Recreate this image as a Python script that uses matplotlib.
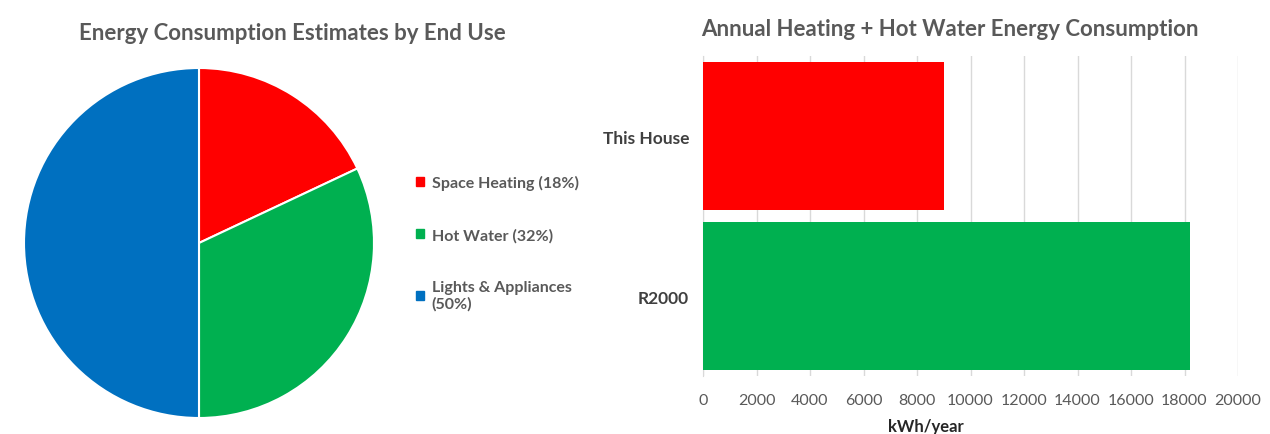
import matplotlib.pyplot as plt
from matplotlib.patches import Patch

plt.rcParams['font.family'] = ['Lato', 'DejaVu Sans']

# pie data
uses = ["Space Heating (18%)", "Hot Water (32%)", "Lights & Appliances\n(50%)"]
shares = [18, 32, 50]
pie_colors = ["#FF0000", "#00B050", "#0070C0"]

# bar data
houses = ["This House", "R2000"]
kwh = [9000, 18200]
bar_colors = ["#FF0000", "#00B050"]
xticks = [0, 2000, 4000, 6000, 8000, 10000, 12000, 14000, 16000, 18000, 20000]

grey = "#595959"

fig = plt.figure(figsize=(12.7, 4.35), dpi=100)

# pie chart
ax1 = fig.add_axes([24/1270, 1-419/435, 350/1270, 350/435])
wedges, _ = ax1.pie(shares, colors=pie_colors, startangle=90, counterclock=False,
                    wedgeprops=dict(edgecolor="white", linewidth=1.5))
ax1.set_xlim(-1, 1)
ax1.set_ylim(-1, 1)
ax1.set_aspect("equal")
fig.text(292/1270, 1-33/435, "Energy Consumption Estimates by End Use", ha="center", va="center",
         fontsize=16, fontweight="bold", color=grey)
handles = [Patch(color=c) for c in pie_colors]
leg = fig.legend(handles, uses, loc="upper left", bbox_to_anchor=(402/1270, 1-162/435), frameon=False,
                 prop=dict(weight="bold", size=11.5),
                 handlelength=0.5, handleheight=0.5, handletextpad=0.45, labelspacing=2.35)
for t in leg.get_texts():
    t.set_color(grey)

# bar chart
ax2 = fig.add_axes([703/1270, 1-377/435, 535/1270, 320/435])
ax2.barh(houses, kwh, color=bar_colors, height=0.925, zorder=3)
ax2.set_xlim(0, 20000)
ax2.set_ylim(1.5, -0.5)
ax2.set_xticks(xticks)
ax2.set_xticklabels([str(x) for x in xticks], fontsize=11.5, color=grey)
ax2.grid(axis="x", color="#D9D9D9", linewidth=1, zorder=0)
for s in ["top", "right", "bottom"]:
    ax2.spines[s].set_visible(False)
ax2.spines["left"].set_color("#D9D9D9")
ax2.tick_params(axis="x", length=0, pad=12)
ax2.tick_params(axis="y", length=0, pad=10)
for lbl in ax2.get_yticklabels():
    lbl.set_fontsize(12.5)
    lbl.set_fontweight("bold")
    lbl.set_color("#404040")
fig.text(926/1270, 1-427/435, "kWh/year", ha="center", va="center",
         fontsize=12, fontweight="bold", color="#262626")
fig.text(950/1270, 1-30/435, "Annual Heating + Hot Water Energy Consumption", ha="center", va="center",
         fontsize=16, fontweight="bold", color=grey)

fig.savefig("out.png", dpi=100)
